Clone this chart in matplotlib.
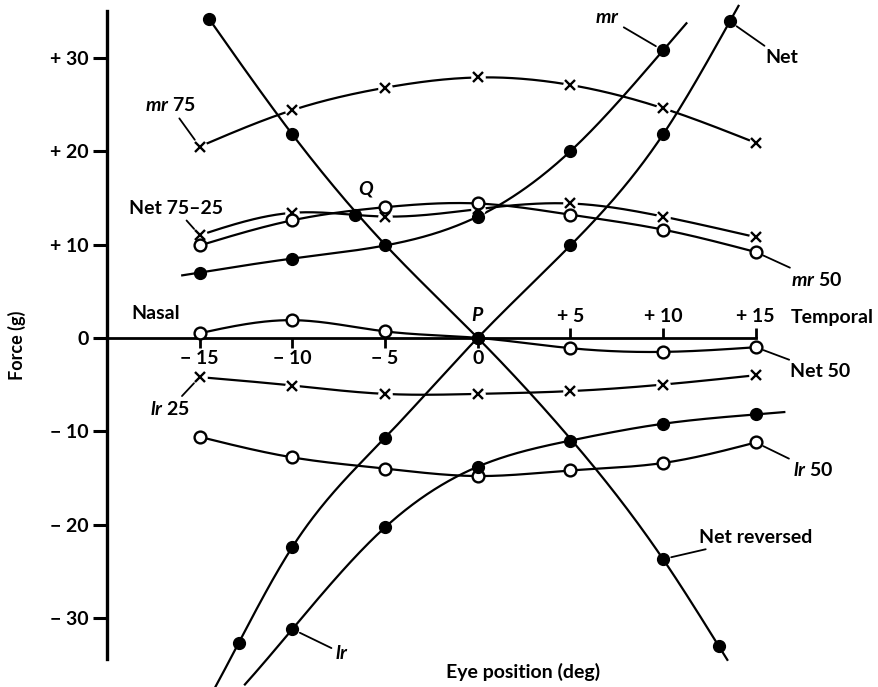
import numpy as np
import matplotlib
matplotlib.use('Agg')
import matplotlib.pyplot as plt

plt.rcParams['font.family'] = ['Lato', 'DejaVu Sans']
plt.rcParams['font.weight'] = 'bold'
plt.rcParams['mathtext.fontset'] = 'custom'
plt.rcParams['mathtext.it'] = 'Lato:italic:bold'
plt.rcParams['mathtext.rm'] = 'Lato:bold'

# eye positions (deg)
x_pos = [-15, -10, -5, 0, 5, 10, 15]

# tension curves (g)
mr75 = [20.5, 24.4, 26.8, 27.9, 27.1, 24.6, 20.9]
net75_25 = [11.0, 13.4, 13.0, 13.8, 14.4, 13.0, 10.8]
mr50 = [9.9, 12.6, 14.0, 14.4, 13.2, 11.6, 9.2]
net50 = [0.5, 1.9, 0.7, 0.0, -1.1, -1.5, -1.0]
lr25 = [-4.2, -5.1, -6.0, -6.0, -5.7, -5.0, -4.0]
lr50 = [-10.6, -12.8, -14.0, -14.8, -14.2, -13.4, -11.2]

mr_x = [-15, -10, -5, 0, 5, 10]
mr = [7.0, 8.5, 9.9, 13.0, 20.0, 30.8]

lr_x = [-10, -5, 0, 5, 10, 15]
lr = [-31.2, -20.3, -13.8, -11.0, -9.2, -8.2]

net_x = [-12.9, -10, -5, 0, 5, 10, 13.6]
net = [-32.7, -22.4, -10.7, 0.0, 9.9, 21.8, 33.9]

netrev_x = [-14.5, -10, -5, 0, 5, 10, 13.0]
netrev = [34.2, 21.8, 10.0, 0.0, -10.8, -23.7, -33.0]
netrev_marked = [0, 1, 3, 5, 6]

q_point = (-6.6, 13.2)


def spline(xs, ys, x0, x1, n=300):
    # natural cubic spline, end segments extended for the overhanging line ends
    xs = np.asarray(xs, float)
    ys = np.asarray(ys, float)
    k = len(xs)
    h = np.diff(xs)
    A = np.zeros((k, k))
    b = np.zeros(k)
    A[0, 0] = A[-1, -1] = 1
    for i in range(1, k - 1):
        A[i, i - 1] = h[i - 1]
        A[i, i] = 2 * (h[i - 1] + h[i])
        A[i, i + 1] = h[i]
        b[i] = 6 * ((ys[i + 1] - ys[i]) / h[i] - (ys[i] - ys[i - 1]) / h[i - 1])
    M = np.linalg.solve(A, b)
    t = np.linspace(x0, x1, n)
    i = np.clip(np.searchsorted(xs, t) - 1, 0, k - 2)
    hi = h[i]
    a = xs[i + 1] - t
    c = t - xs[i]
    s = (M[i] * a**3 / (6 * hi) + M[i + 1] * c**3 / (6 * hi)
         + (ys[i] / hi - M[i] * hi / 6) * a + (ys[i + 1] / hi - M[i + 1] * hi / 6) * c)
    return t, s


fig = plt.figure(figsize=(8.79, 6.87), dpi=100)
ylo, yhi = -37.4, 36.2
ax = fig.add_axes([107 / 879, 0, 1 - 107 / 879, 1])
ax.set_xlim(-20, 21.65)
ax.set_ylim(ylo, yhi)

LW = 1.6
MS = 8.5

def curve(xs, ys, x0, x1):
    t, s = spline(xs, ys, x0, x1)
    ax.plot(t, s, color='black', lw=LW, zorder=2, solid_capstyle='butt')

def crosses(xs, ys):
    ax.plot(xs, ys, 'o', ms=10.5, mfc='white', mec='none', zorder=3)
    ax.plot(xs, ys, 'x', ms=7, mew=1.7, color='black', zorder=4)

def opens(xs, ys):
    ax.plot(xs, ys, 'o', ms=MS, mfc='white', mec='black', mew=1.7, zorder=5)

def dots(xs, ys):
    ax.plot(xs, ys, 'o', ms=MS, color='black', zorder=6)

curve(x_pos, mr75, -15, 15)
crosses(x_pos, mr75)
curve(x_pos, net75_25, -15, 15)
crosses(x_pos, net75_25)
curve(x_pos, mr50, -15, 15)
opens(x_pos, mr50)
curve(x_pos, net50, -15, 15)
opens([x for x in x_pos if x != 0], [v for x, v in zip(x_pos, net50) if x != 0])
curve(x_pos, lr25, -15, 15)
crosses(x_pos, lr25)
curve(x_pos, lr50, -15, 15)
opens(x_pos, lr50)

curve(mr_x, mr, -16, 11.3)
dots(mr_x, mr)
curve(lr_x, lr, -12.6, 16.6)
dots(lr_x, lr)
curve(net_x, net, -14.3, 14.1)
dots(net_x, net)
curve(netrev_x, netrev, -14.5, 13.5)
dots([netrev_x[i] for i in netrev_marked], [netrev[i] for i in netrev_marked])
dots([q_point[0]], [q_point[1]])

# axes in the style of the printed figure
for side in ('top', 'right'):
    ax.spines[side].set_visible(False)
ax.spines['left'].set_linewidth(2.4)
ax.spines['left'].set_bounds(-34.4, 35)
ax.spines['bottom'].set_position(('data', 0))
ax.spines['bottom'].set_bounds(-20, 15)
ax.spines['bottom'].set_linewidth(2.0)
ax.spines['bottom'].set_zorder(1)

ax.set_yticks([-30, -20, -10, 0, 10, 20, 30],
              labels=['\u2212 30', '\u2212 20', '\u2212 10', '0', '+ 10', '+ 20', '+ 30'])
ax.tick_params(axis='y', length=10, width=2.2, pad=3, labelsize=14)
ax.set_xticks([-15, -10, -5, 0], labels=['\u2212 15', '\u2212 10', '\u2212 5', '0'])
ax.tick_params(axis='x', length=7, width=2.0, pad=2, labelsize=14)

sec = ax.secondary_xaxis((0 - ylo) / (yhi - ylo))
sec.set_xticks([5, 10, 15], labels=['+ 5', '+ 10', '+ 15'])
sec.tick_params(axis='x', direction='out', length=7, width=2.0, pad=2, labelsize=14)
for sp in sec.spines.values():
    sp.set_visible(False)

# curve labels
fs = 14
lead = dict(arrowstyle='-', lw=1.3, color='black', shrinkA=1, shrinkB=6)
ax.annotate('$mr$ 75', xy=(-15, 20.5), xytext=(-16.6, 24.9), ha='center', va='center',
            fontsize=fs, arrowprops=lead)
ax.annotate('Net 75\u201325', xy=(-15, 11.0), xytext=(-16.3, 13.9), ha='center', va='center',
            fontsize=fs, arrowprops=lead)
ax.annotate('$mr$', xy=(10, 30.8), xytext=(7.0, 34.3), ha='center', va='center',
            fontsize=fs, arrowprops=lead)
ax.annotate('Net', xy=(13.6, 33.9), xytext=(16.4, 30.0), ha='center', va='center',
            fontsize=fs, arrowprops=lead)
ax.annotate('$mr$ 50', xy=(15, 9.2), xytext=(18.3, 6.2), ha='center', va='center',
            fontsize=fs, arrowprops=lead)
ax.annotate('Net 50', xy=(15, -1.0), xytext=(18.5, -3.6), ha='center', va='center',
            fontsize=fs, arrowprops=lead)
ax.annotate('$lr$ 25', xy=(-15, -4.2), xytext=(-16.6, -7.6), ha='center', va='center',
            fontsize=fs, arrowprops=lead)
ax.annotate('$lr$ 50', xy=(15, -11.2), xytext=(18.1, -14.2), ha='center', va='center',
            fontsize=fs, arrowprops=lead)
ax.annotate('Net reversed', xy=(10, -23.7), xytext=(15.0, -21.4), ha='center', va='center',
            fontsize=fs, arrowprops=lead)
ax.annotate('$lr$', xy=(-10, -31.2), xytext=(-7.3, -33.8), ha='center', va='center',
            fontsize=fs, arrowprops=lead)
ax.text(-6.0, 15.9, '$Q$', ha='center', va='center', fontsize=fs)
ax.text(0.0, 2.5, '$P$', ha='center', va='center', fontsize=fs)
ax.text(-17.4, 2.6, 'Nasal', ha='center', va='center', fontsize=fs)
ax.text(16.9, 2.2, 'Temporal', ha='left', va='center', fontsize=fs)

fig.text(17 / 879, 1 - 345 / 687, 'Force (g)', rotation=90, ha='center', va='center', fontsize=13)
fig.text(523 / 879, 1 - 672 / 687, 'Eye position (deg)', ha='center', va='center', fontsize=14)

fig.savefig('out.png', dpi=100)
